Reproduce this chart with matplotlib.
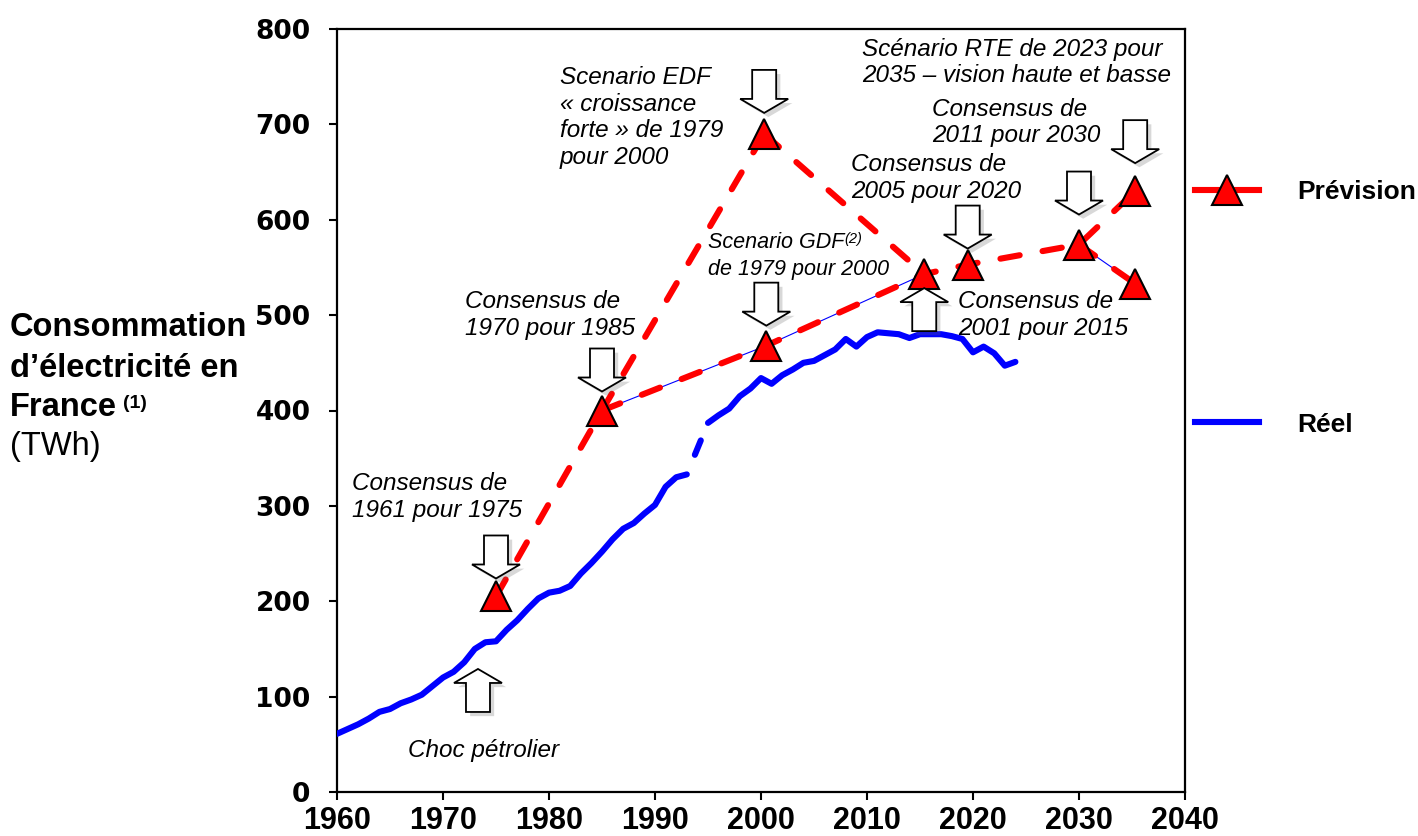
import matplotlib
matplotlib.use("Agg")
import matplotlib.pyplot as plt
import matplotlib.patheffects as pe
from matplotlib.patches import Polygon
from matplotlib.transforms import ScaledTranslation
from matplotlib.lines import Line2D
from matplotlib.legend_handler import HandlerTuple

# ---- Consommation réelle (TWh) ----
reel_years_a = list(range(1960, 1994))
reel_values_a = [61, 66, 71, 77, 84, 87, 93, 97, 102, 111,
                 120, 126, 136, 150, 157, 158, 170, 180, 192, 203,
                 209, 211, 216, 229, 240, 252, 265, 276, 282, 292,
                 301, 320, 330, 333]
reel_years_b = list(range(1995, 2025))
reel_values_b = [387, 395, 402, 415, 423, 434, 428, 437, 443, 450,
                 452, 458, 464, 475, 467, 477, 482, 481, 480, 476,
                 480, 480, 480, 478, 475, 461, 467, 460, 447, 451]

# ---- Prévisions (année cible, TWh) ----
prev_names = ["1961 pour 1975", "1970 pour 1985", "EDF 1979 pour 2000",
              "GDF 1979 pour 2000", "2001 pour 2015", "2005 pour 2020",
              "2011 pour 2030", "RTE 2023 haute", "RTE 2023 basse"]
prev_years = [1975, 1985, 2000.3, 2000.5, 2015.4, 2019.5, 2030, 2035.3, 2035.3]
prev_values = [205, 400, 690, 468, 543, 553, 574, 630, 533]

# forecast paths (indices into the lists above)
red_paths = [[0, 1, 2], [2, 4], [1, 3, 4, 5, 6, 7], [6, 8]]
thin_paths = [[1, 3, 4], [6, 8]]

x_ticks = list(range(1960, 2041, 10))
y_ticks = list(range(0, 801, 100))

SANS = "Liberation Sans"

W, H = 1418, 836
fig = plt.figure(figsize=(W / 100, H / 100), dpi=100)
ax = fig.add_axes([337 / W, 1 - 792 / H, 848 / W, 763 / H])
ax.set_xlim(1960, 2040)
ax.set_ylim(0, 800)

RED = "#ff0000"
BLUE = "#0000ff"
dash = (3.2, 3.8)

# real consumption
ax.plot(reel_years_a, reel_values_a, color=BLUE, lw=4.4,
        solid_capstyle="round", solid_joinstyle="round", zorder=3)
ax.plot(reel_years_b, reel_values_b, color=BLUE, lw=4.4,
        solid_capstyle="round", solid_joinstyle="round", zorder=3)
# one dash bridging the missing years
x0, y0 = reel_years_a[-1], reel_values_a[-1]
x1, y1 = reel_years_b[0], reel_values_b[0]
fa, fb = 0.38, 0.66
ax.plot([x0 + fa * (x1 - x0), x0 + fb * (x1 - x0)],
        [y0 + fa * (y1 - y0), y0 + fb * (y1 - y0)],
        color=BLUE, lw=4.4, solid_capstyle="round", zorder=3)

# forecast lines
for path in thin_paths:
    ax.plot([prev_years[i] for i in path], [prev_values[i] for i in path],
            color=BLUE, lw=0.8, zorder=4)
for path in red_paths:
    ax.plot([prev_years[i] for i in path], [prev_values[i] for i in path],
            color=RED, lw=4.4, dashes=dash, dash_capstyle="round", zorder=5)
ax.plot(prev_years, prev_values, ls="none", marker="^", ms=21,
        mfc=RED, mec="black", mew=1.5, zorder=6)

# block arrows pointing at forecasts
shadow = [pe.SimplePatchShadow(offset=(3, -3), shadow_rgbFace="0.4", alpha=0.25),
          pe.Normal()]


def block_arrow(x, y, gap, up=False):
    s = -1 if up else 1
    pts = [(0, 0), (-24, 14), (-12, 14), (-12, 43), (12, 43), (12, 14), (24, 14)]
    pts = [(px / 100, s * (py + gap) / 100) for px, py in pts]
    tr = fig.dpi_scale_trans + ScaledTranslation(x, y, ax.transData)
    poly = Polygon(pts, closed=True, transform=tr, facecolor="white",
                   edgecolor="black", lw=1.3, zorder=7)
    poly.set_path_effects(shadow)
    ax.add_patch(poly)


arrow_gaps = {0: 18, 1: 19, 2: 21, 3: 20, 5: 16, 6: 30, 7: 28}
for i, g in arrow_gaps.items():
    block_arrow(prev_years[i], prev_values[i], g)
block_arrow(prev_years[4], prev_values[4], 14, up=True)
block_arrow(1973.3, 129, 0, up=True)

# annotations
it = dict(family=SANS, style="italic", fontsize=17.5, color="black",
          ha="left", va="center", linespacing=1.2, zorder=8)
ax.text(1981.0, 707, "Scenario EDF\n« croissance\nforte » de 1979\npour 2000", **it)
ax.text(1961.4, 309, "Consensus de\n1961 pour 1975", **it)
ax.text(1972.1, 500, "Consensus de\n1970 pour 1985", **it)
ax.text(2008.5, 644, "Consensus de\n2005 pour 2020", **it)
ax.text(2016.1, 702, "Consensus de\n2011 pour 2030", **it)
ax.text(2009.5, 765, "Scénario RTE de 2023 pour\n2035 – vision haute et basse", **it)
ax.text(2018.6, 500, "Consensus de\n2001 pour 2015", **it)
ax.text(1966.7, 43, "Choc pétrolier", **it)
gdf_style = dict(it, fontsize=15.5)
g1 = ax.text(1995.0, 576, "Scenario GDF", **gdf_style)
ax.annotate("(2)", xy=(1, 1), xycoords=g1, ha="left", va="top",
            family=SANS, style="italic", fontsize=10.5)
ax.text(1995.0, 548, "de 1979 pour 2000", **gdf_style)

# axes styling
for sp in ax.spines.values():
    sp.set_linewidth(1.6)
    sp.set_path_effects([pe.SimplePatchShadow(offset=(3, -3), shadow_rgbFace="0.4",
                                              alpha=0.3), pe.Normal()])
ax.set_xticks(x_ticks)
ax.set_yticks(y_ticks)
ax.tick_params(axis="both", direction="out", length=6, width=1.5, color="black")
ax.tick_params(axis="x", pad=4)
ax.tick_params(axis="y", pad=13)
for lab in ax.get_xticklabels():
    lab.set_family(SANS)
    lab.set_fontweight("bold")
    lab.set_fontsize(22)
for lab in ax.get_yticklabels():
    lab.set_family("DejaVu Sans")
    lab.set_fontweight("bold")
    lab.set_fontsize(19)

# legend outside the plotting area
h_prev = (Line2D([], [], color=BLUE, lw=0.8),
          Line2D([], [], color=RED, lw=4.4),
          Line2D([], [], ls="none", marker="^", ms=21,
                 mfc=RED, mec="black", mew=1.5))
h_reel = Line2D([], [], color=BLUE, lw=4.4)
ax.legend([h_prev, h_reel], ["Prévision", "Réel"],
          handler_map={tuple: HandlerTuple(ndivide=1, pad=0)},
          loc="upper left", bbox_to_anchor=(1.012, 0.802), frameon=False,
          prop=dict(family=SANS, weight="bold", size=19),
          handlelength=2.4, handletextpad=1.45, labelspacing=7.9,
          borderpad=0, borderaxespad=0, numpoints=1)

# y-axis title
lab = dict(family=SANS, fontsize=23.5, color="black", ha="left", va="center")
fig.text(10 / W, 1 - 327 / H, "Consommation", weight="bold", **lab)
fig.text(10 / W, 1 - 368 / H, "d’électricité en", weight="bold", **lab)
fr = fig.text(10 / W, 1 - 408 / H, "France", weight="bold", **lab)
fig.text(10 / W, 1 - 447 / H, "(TWh)", weight="normal", **lab)
ax.annotate("(1)", xy=(1, 1), xycoords=fr, xytext=(4, -2), textcoords="offset points",
            ha="left", va="top", family=SANS, weight="bold", fontsize=14,
            annotation_clip=False)
plt.savefig("out.png", dpi=100)
